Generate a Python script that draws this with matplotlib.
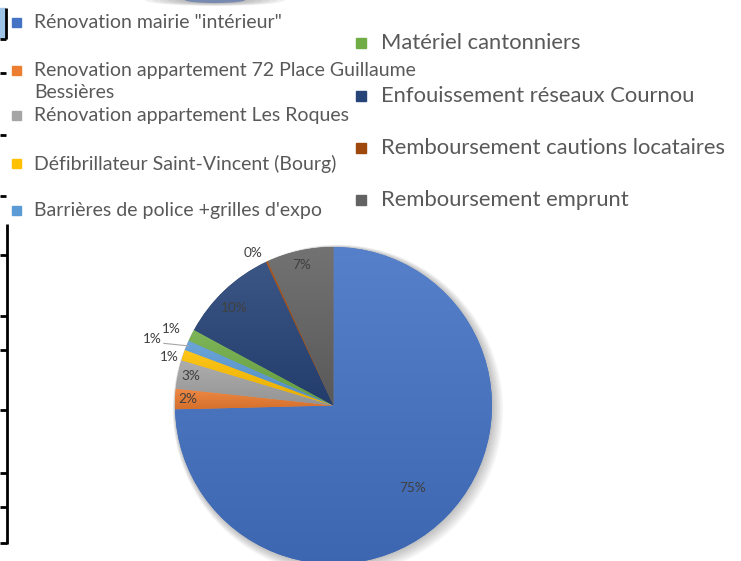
import numpy as np
import matplotlib.pyplot as plt
from matplotlib.colors import to_rgb
from matplotlib.patches import Rectangle, Circle, Ellipse
from matplotlib.lines import Line2D

plt.rcParams['font.family'] = ['Lato', 'DejaVu Sans']

labels = ['Rénovation mairie "intérieur"',
          'Renovation appartement 72 Place Guillaume\nBessières',
          'Rénovation appartement Les Roques',
          'Défibrillateur Saint-Vincent (Bourg)',
          "Barrières de police +grilles d'expo",
          'Matériel cantonniers',
          'Enfouissement réseaux Cournou',
          'Remboursement cautions locataires',
          'Remboursement emprunt']
shares = [74.6, 2.1, 2.9, 1.1, 1.0, 1.2, 10.1, 0.2, 6.8]
colors = ['#4472C4', '#ED7D31', '#A5A5A5', '#FFC000', '#5B9BD5',
          '#70AD47', '#264478', '#9E480E', '#636363']

# where each % label sits: distance from centre (radius = 1) and angle nudge (deg)
label_dist = [0.72, 0.92, 0.92, 1.08, 1.22, 1.13, 0.88, 1.09, 0.91]
label_nudge = [-2, -0.3, -0.4, 2, 2.2, 1, 2.2, 3, 0.4]

W, H = 741, 561
fig = plt.figure(figsize=(W / 100, H / 100), dpi=100)


def fx(x):
    return x / W


def fy(y):
    return 1 - y / H


# pie centre ~ (333.5, 405.5) px, radius ~158.5 px
R = 158.5
ax = fig.add_axes([fx(333.5 - R), fy(405.5 + R), 2 * R / W, 2 * R / H])

# soft shadow behind the pie
for k in range(8):
    ax.add_patch(Circle((0.004 * k, -0.004 * k), 1 + 0.006 * k, color='#000000',
                        alpha=0.035, lw=0, clip_on=False, zorder=0))

wedges, _, autotexts = ax.pie(shares, colors=colors, startangle=90, counterclock=False,
                              radius=1, autopct='%1.0f%%', pctdistance=0.8,
                              wedgeprops=dict(linewidth=0),
                              textprops=dict(color='#404040', fontsize=9.8))

# excel-like vertical gradient on each slice (lighter at the top)
for w, c in zip(wedges, colors):
    w.set_clip_on(False)
    w.set_zorder(1)
    base = np.array(to_rgb(c))
    top = base * 0.9 + 0.1
    bottom = base * 0.9
    t = np.linspace(0, 1, 120)[:, None]
    grad = (top[None, :] * (1 - t) + bottom[None, :] * t)[:, None, :]
    ext = w.get_path().get_extents()
    im = ax.imshow(grad, extent=(ext.x0, ext.x1, ext.y0, ext.y1), origin='upper',
                   aspect='auto', interpolation='bilinear', zorder=2)
    im.set_clip_path(w)

ax.set_xlim(-1, 1)
ax.set_ylim(-1, 1)
ax.set_aspect('equal')
ax.axis('off')

for w, t, d, n in zip(wedges, autotexts, label_dist, label_nudge):
    ang = np.deg2rad((w.theta1 + w.theta2) / 2 + n)
    t.set_position((d * np.cos(ang), d * np.sin(ang)))
    t.set_zorder(3)

# leader line for the light blue slice
w = wedges[4]
a0 = np.deg2rad((w.theta1 + w.theta2) / 2 + label_nudge[4])
a1 = np.deg2rad((w.theta1 + w.theta2) / 2)
ax.plot([1.14 * np.cos(a0), 0.99 * np.cos(a1)],
        [1.14 * np.sin(a0), 0.99 * np.sin(a1)],
        color='#A6A6A6', lw=0.8, clip_on=False, zorder=3)

# legend, drawn by hand (two columns, like the excel screenshot)
left_y = [22, 70, 115, 163, 210]
right_y = [43, 96, 148, 200]
for i, y in enumerate(left_y):
    fig.add_artist(Rectangle((fx(12), fy(y + 5)), 9 / W, 9 / H,
                             transform=fig.transFigure, color=colors[i]))
    fig.text(fx(34), fy(y - 8), labels[i], color='#595959', fontsize=14,
             va='top', ha='left', linespacing=1.35)
for j, y in enumerate(right_y):
    i = j + 5
    fig.add_artist(Rectangle((fx(356), fy(y + 5)), 10 / W, 10 / H,
                             transform=fig.transFigure, color=colors[i]))
    fig.text(fx(381), fy(y), labels[i], color='#595959', fontsize=15.8,
             va='center', ha='left')


# bits of the surrounding worksheet on the left
def seg(x0, y0, x1, y1, lw=2.0):
    fig.add_artist(Line2D([fx(x0), fx(x1)], [fy(y0), fy(y1)], color='black',
                          lw=lw, transform=fig.transFigure, solid_capstyle='butt'))


fig.add_artist(Rectangle((fx(0), fy(38)), 5 / W, 30 / H,
                         transform=fig.transFigure, color='#9DC3E6'))
seg(6, 8, 6, 39)
seg(0, 39, 6, 39)
for y in [73, 135, 196]:
    seg(0, y, 6, y)
seg(7, 224, 7, 544)
for y in [255, 316, 350, 410, 473, 507, 543]:
    seg(0, y, 7, y)

# shadow of something above the crop
for k in range(6):
    fig.add_artist(Ellipse((fx(215), fy(0)), (140 - 15 * k) / W, (12 - k) / H,
                           transform=fig.transFigure, color='#555555', alpha=0.08, lw=0))
fig.add_artist(Ellipse((fx(215), fy(0)), 60 / W, 6 / H,
                       transform=fig.transFigure, color='#3A5BA8', alpha=0.5, lw=0))

fig.savefig('out.png', dpi=100)
